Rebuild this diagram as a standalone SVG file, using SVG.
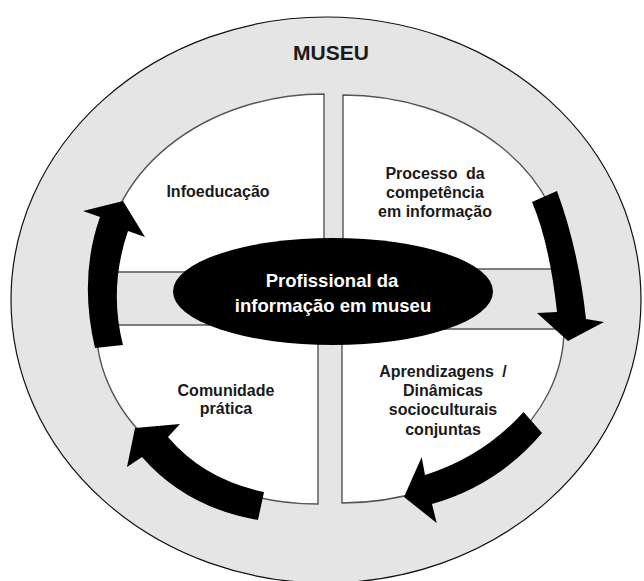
<svg xmlns="http://www.w3.org/2000/svg" width="644" height="581" viewBox="0 0 644 581">
  <style>
    .lbl { font-family: "Liberation Sans", Arial, sans-serif; font-weight: bold; fill: #1a1a1a; text-anchor: middle; }
    .q { font-size: 16px; }
    .wide { word-spacing: 4px; }
    .quad { fill: #ffffff; stroke: #555555; stroke-width: 1.4; stroke-linejoin: miter; }
    .arrow { fill: #000000; stroke: none; }
    .core { font-family: "Liberation Sans", Arial, sans-serif; font-weight: bold; fill: #ffffff; text-anchor: middle; font-size: 18.5px; }
  </style>
  <rect width="644" height="581" fill="#ffffff"/>

  <!-- outer ring: the museum -->
  <g id="museu">
    <ellipse cx="326" cy="300" rx="315" ry="283" fill="#e5e5e5" stroke="#111111" stroke-width="1.2"/>
    <text class="lbl" x="331" y="60" font-size="21">MUSEU</text>
  </g>

  <!-- four quarter panels -->
  <g id="infoeducacao">
    <path class="quad" d="M324,272 L324,94 A220,178 0 0 0 104,272 Z"/>
    <text class="lbl q" x="218" y="197">Infoeducação</text>
  </g>
  <g id="processo">
    <path class="quad" d="M343,269 L343,95 A222,174 0 0 1 565,269 Z"/>
    <text class="lbl q wide" x="435" y="179">Processo da</text>
    <text class="lbl q" x="435" y="198">competência</text>
    <text class="lbl q" x="435" y="217">em informação</text>
  </g>
  <g id="comunidade">
    <path class="quad" d="M318,325 L96,325 A222,179 0 0 0 318,504 Z"/>
    <text class="lbl q" x="226" y="396">Comunidade</text>
    <text class="lbl q" x="226" y="414">prática</text>
  </g>
  <g id="aprendizagens">
    <path class="quad" d="M342,329 L564,329 A222,174 0 0 1 342,503 Z"/>
    <text class="lbl q wide" x="443" y="377">Aprendizagens /</text>
    <text class="lbl q" x="443" y="396">Dinâmicas</text>
    <text class="lbl q" x="443" y="415">socioculturais</text>
    <text class="lbl q" x="443" y="435">conjuntas</text>
  </g>

  <!-- central actor -->
  <g id="profissional">
    <ellipse cx="333" cy="291.5" rx="160" ry="53.5" fill="#000000"/>
    <text class="core" x="332" y="287">Profissional da</text>
    <text class="core" x="333" y="312">informação em museu</text>
  </g>

  <!-- cycle arrows -->
  <g id="connectors">
    <path class="arrow" d="M532,202 Q549.5,243 557,312 L537,313 L568,341 L604,322 L586,319 Q578.5,249.5 557,191 Z"/>
    <path class="arrow" d="M523.6,412 Q482.9,456.9 425,475 L421.7,457 L404,497 L436.7,523 L432,504 Q497.8,485.3 542,433 Z"/>
    <path class="arrow" d="M264,492 Q204,479.5 168,437 L180,424 L135,428 L127,467 L142,457 Q186,507.5 258,520 Z"/>
    <path class="arrow" d="M95,348 Q78.5,277.5 100,217 L83,211 L123,201 L145,237 L128,231 Q108.5,288 123,345 Z"/>
  </g>
</svg>
